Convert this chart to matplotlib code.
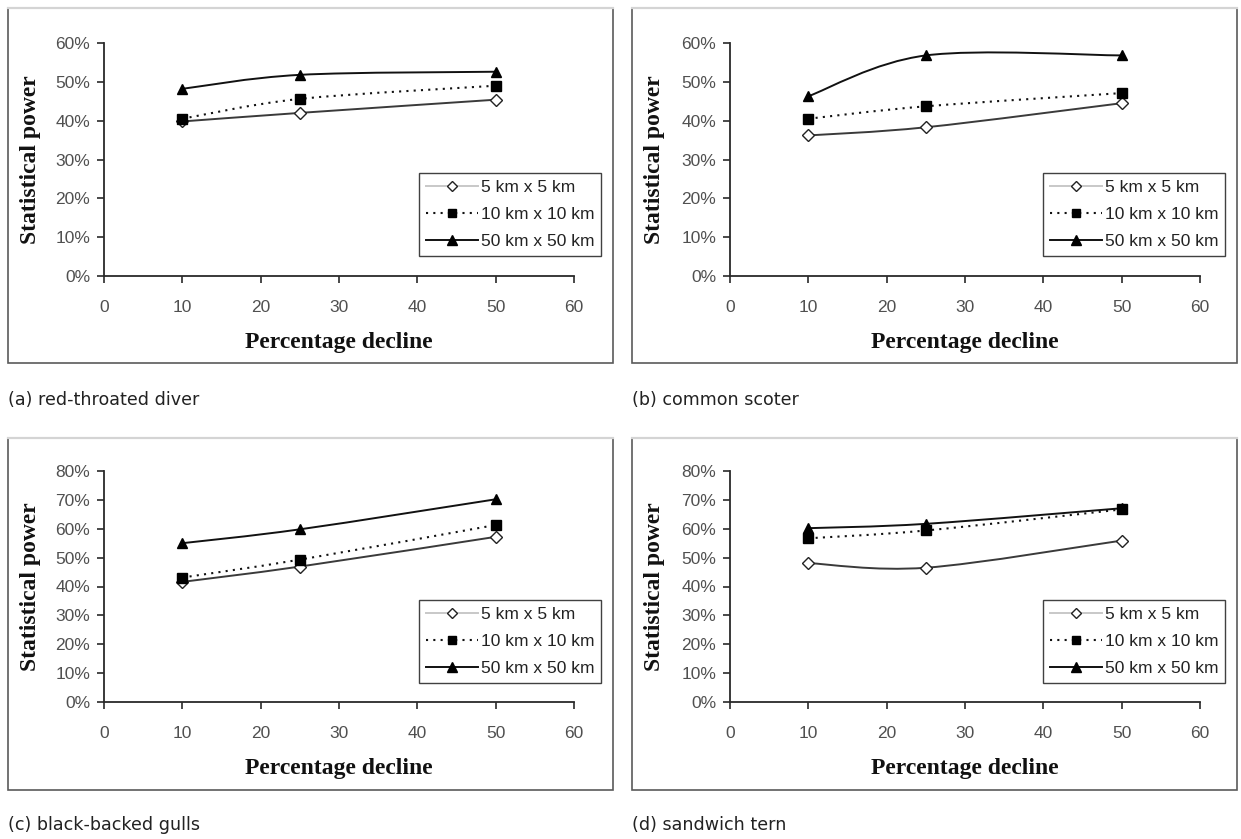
import matplotlib
matplotlib.use("Agg")
import matplotlib.pyplot as plt
from matplotlib.path import Path
from matplotlib.patches import PathPatch, Rectangle
from matplotlib.lines import Line2D
from matplotlib.ticker import PercentFormatter

# data
decline = [10, 25, 50]
series_names = ["5 km x 5 km", "10 km x 10 km", "50 km x 50 km"]
captions = ["(a) red-throated diver", "(b) common scoter",
            "(c) black-backed gulls", "(d) sandwich tern"]
ymax = [60, 60, 80, 80]

diver_5 = [39.8, 42.0, 45.4]
diver_10 = [40.5, 45.6, 49.0]
diver_50 = [48.2, 51.8, 52.6]

scoter_5 = [36.2, 38.3, 44.5]
scoter_10 = [40.5, 43.7, 47.1]
scoter_50 = [46.3, 56.8, 56.8]

gulls_5 = [41.6, 46.9, 57.2]
gulls_10 = [43.1, 49.3, 61.3]
gulls_50 = [55.0, 59.8, 70.2]

tern_5 = [48.1, 46.5, 55.9]
tern_10 = [56.7, 59.4, 66.7]
tern_50 = [60.2, 61.7, 67.1]

panels = [(diver_5, diver_10, diver_50), (scoter_5, scoter_10, scoter_50),
          (gulls_5, gulls_10, gulls_50), (tern_5, tern_10, tern_50)]


def smooth_path(x, y):
    # Excel-like smoothed line: Catmull-Rom segments as cubic Beziers
    n = len(x)
    verts = [(x[0], y[0])]
    codes = [Path.MOVETO]
    for i in range(n - 1):
        i0, i3 = max(i - 1, 0), min(i + 2, n - 1)
        c1 = (x[i] + (x[i + 1] - x[i0]) / 6, y[i] + (y[i + 1] - y[i0]) / 6)
        c2 = (x[i + 1] - (x[i3] - x[i]) / 6, y[i + 1] - (y[i3] - y[i]) / 6)
        verts += [c1, c2, (x[i + 1], y[i + 1])]
        codes += [Path.CURVE4] * 3
    return Path(verts, codes)


W, H = 1241, 839
fig = plt.figure(figsize=(W / 100, H / 100), dpi=100)

styles = [
    dict(color="#3a3a3a", ls="-", marker="D", mfc="white", mec="#222222", ms=6.5, lw=1.4),
    dict(color="#111111", ls=(0, (1, 2.5)), marker="s", mfc="black", mec="black", ms=7, lw=1.5),
    dict(color="#111111", ls="-", marker="^", mfc="black", mec="black", ms=7.5, lw=1.4),
]

# pixel layout: box left, top, right, bottom, axes left, top, bottom, legend left, top, caption y
layout = [
    (8, 8, 613, 363, 104, 43, 276, 419, 173, 400),
    (632, 8, 1237, 363, 730, 43, 276, 1043, 173, 400),
    (8, 438, 613, 790, 104, 471, 702, 419, 600, 825),
    (632, 438, 1237, 790, 730, 471, 702, 1043, 600, 825),
]

for k in range(4):
    bl, bt, br, bb, axl, axt, axb, lgl, lgt, capy = layout[k]
    # panel frame
    fig.patches.append(Rectangle((bl / W, 1 - bb / H), (br - bl) / W, (bb - bt) / H,
                                 transform=fig.transFigure, fill=False,
                                 edgecolor="#5a5a5a", lw=1.2))
    fig.lines.append(Line2D([bl / W, br / W], [1 - bt / H, 1 - bt / H],
                            transform=fig.transFigure, color="#d4d4d4", lw=1.6))

    ax = fig.add_axes([axl / W, 1 - axb / H, 470 / W, (axb - axt) / H])
    for j, vals in enumerate(panels[k]):
        st = styles[j]
        ax.add_patch(PathPatch(smooth_path(decline, vals), fill=False,
                               edgecolor=st["color"], ls=st["ls"], lw=st["lw"],
                               capstyle="butt", zorder=2))
        ax.plot(decline, vals, ls="none", marker=st["marker"], mfc=st["mfc"],
                mec=st["mec"], ms=st["ms"], mew=1.0, zorder=3, clip_on=False)

    ax.set_xlim(0, 60)
    ax.set_ylim(0, ymax[k])
    ax.set_xticks(range(0, 61, 10))
    ax.set_yticks(range(0, ymax[k] + 1, 10))
    ax.yaxis.set_major_formatter(PercentFormatter(100, decimals=0))
    for s in ["top", "right"]:
        ax.spines[s].set_visible(False)
    for s in ["left", "bottom"]:
        ax.spines[s].set_color("#2a2a2a")
        ax.spines[s].set_linewidth(1.3)
    ax.tick_params(axis="x", length=5, width=1.2, color="#2a2a2a", pad=12,
                   labelsize=12.5, labelcolor="#505050")
    ax.tick_params(axis="y", length=5, width=1.2, color="#2a2a2a", pad=5,
                   labelsize=12.5, labelcolor="#505050")
    for lab in ax.get_xticklabels() + ax.get_yticklabels():
        lab.set_family("Liberation Sans")

    ax.set_xlabel("Percentage decline", family="Liberation Serif",
                  weight="bold", fontsize=17, color="#111111")
    ax.xaxis.set_label_coords(0.5, -56 / (axb - axt))
    ax.xaxis.label.set_va("top")
    ax.set_ylabel("Statistical power", family="Liberation Serif",
                  weight="bold", fontsize=17, color="#111111")
    ax.yaxis.set_label_coords(-(axl - bl - 33) / 470, 0.5)

    handles = [Line2D([], [], color=st["color"], ls=st["ls"], lw=st["lw"],
                      marker=st["marker"], mfc=st["mfc"], mec=st["mec"],
                      ms=st["ms"] - 1, mew=1.0) for st in styles]
    handles[0].set_color("#c8c8c8")
    leg = ax.legend(handles, series_names, loc="upper left",
                    bbox_to_anchor=(lgl / W, 1 - lgt / H),
                    bbox_transform=fig.transFigure, borderaxespad=0,
                    frameon=True, fancybox=False, handlelength=3.0,
                    handletextpad=0.15, labelspacing=0.68, borderpad=0.4,
                    prop={"family": "Liberation Sans", "size": 12.5})
    leg.get_frame().set_edgecolor("#111111")
    leg.get_frame().set_linewidth(1.0)
    for t in leg.get_texts():
        t.set_color("#222222")

    fig.text(bl / W, 1 - capy / H, captions[k], family="DejaVu Sans",
             fontsize=12.6, color="#222222", va="center", ha="left")

fig.savefig("out.png", dpi=100)
